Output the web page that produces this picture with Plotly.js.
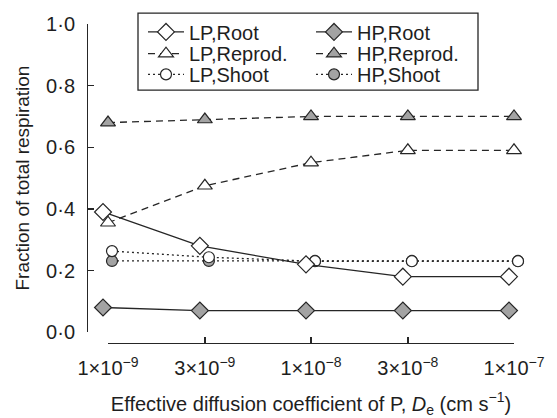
<!DOCTYPE html>
<html>
<head>
<meta charset="utf-8">
<script src="https://cdn.plot.ly/plotly-3.0.1.min.js"></script>
<style>html,body{margin:0;padding:0;background:#fff;}#chart{width:557px;height:418px;}</style>
</head>
<body>
<div id="chart"></div>
<script>
// ---- data ----
const diffusion = [1e-9, 3e-9, 1e-8, 3e-8, 1e-7];
const xTickText = ["1×10<sup>−9</sup>", "3×10<sup>−9</sup>", "1×10<sup>−8</sup>", "3×10<sup>−8</sup>", "1×10<sup>−7</sup>"];
const yTickVals = [0, 0.2, 0.4, 0.6, 0.8, 1.0];
const yTickText = ["0·0", "0·2", "0·4", "0·6", "0·8", "1·0"];

const lpRoot    = [0.39, 0.28, 0.22, 0.18, 0.18];
const lpReprod  = [0.355, 0.475, 0.55, 0.59, 0.59];
const lpShoot   = [0.263, 0.243, 0.23, 0.23, 0.23];
const hpRoot    = [0.08, 0.07, 0.07, 0.07, 0.07];
const hpReprod  = [0.68, 0.69, 0.70, 0.70, 0.70];
const hpShoot   = [0.231, 0.231, 0.231, 0.231, 0.231];

// ---- geometry / styling ----
const W = 557, H = 418;
const mL = 87, mR = 27, mT = 20, mB = 75;
const plotW = W - mL - mR, plotH = H - mT - mB;
const tickL = 108, tickR = 514;             // pixel span of the visible x axis (1e-9 .. 1e-7)
const perDec = (tickR - tickL) / 2;
const ext = 0.06;                            // extra decades so dodged markers stay inside
const px2x = p => (p - mL) / plotW;
const px2y = p => (H - mB - p) / plotH;
const yDomStart = 11 / plotH;

const dark = '#262626';
const grayFill = '#a3a3a3';
const FONT = 'Liberation Sans, Arial, Helvetica, sans-serif';
const txt = '#1e1e1e';

// small horizontal dodge so overlapping markers sit side by side, as in the figure
const dodge = (arr, f) => arr.map(v => v * f);
const leftShift = Math.pow(10, -5 / perDec), rightShift = Math.pow(10, 4 / perDec);

function tr(name, x, xa, y, symbol, filled, dash, legend, size) {
  return {
    type: 'scatter', mode: 'lines+markers', name: name,
    x: x, y: y, xaxis: xa, yaxis: 'y', legend: legend, cliponaxis: false,
    line: {color: dark, width: 1.3, dash: dash},
    marker: {symbol: symbol, size: size, color: filled ? grayFill : '#ffffff',
             line: {color: dark, width: 1.2}}
  };
}

const traces = [
  tr('HP,Root',    dodge(diffusion, leftShift),  'x2', hpRoot,   'diamond',     true,  'solid',   'legend4', 13),
  tr('HP,Reprod.', diffusion,                    'x',  hpReprod, 'triangle-up', true,  '7px,5px', 'legend5', 13),
  tr('HP,Shoot',   dodge(diffusion, rightShift), 'x2', hpShoot,  'circle',      true,  '2px,3px', 'legend6', 11),
  tr('LP,Shoot',   dodge(diffusion, rightShift), 'x2', lpShoot,  'circle',      false, '2px,3px', 'legend3', 11),
  tr('LP,Reprod.', diffusion,                    'x',  lpReprod, 'triangle-up', false, '7px,5px', 'legend2', 13),
  tr('LP,Root',    dodge(diffusion, leftShift),  'x2', lpRoot,   'diamond',     false, 'solid',   'legend',  13)
];

function leg(xpx, ypx) {
  return {
    x: px2x(xpx), y: px2y(ypx), xanchor: 'left', yanchor: 'middle',
    bgcolor: 'rgba(0,0,0,0)', borderwidth: 0,
    font: {size: 20, family: FONT, color: txt}, itemwidth: 36
  };
}

const layout = {
  width: W, height: H,
  margin: {l: mL, r: mR, t: mT, b: mB},
  paper_bgcolor: '#fff', plot_bgcolor: 'rgba(0,0,0,0)',
  font: {family: FONT, color: txt, size: 20},
  showlegend: true,
  // visible axis spanning exactly 1e-9 .. 1e-7
  xaxis: {
    type: 'log', range: [-9, -7],
    domain: [px2x(tickL), px2x(tickR)],
    anchor: 'free', position: 0,
    showline: true, linecolor: dark, linewidth: 1.3,
    ticks: 'inside', ticklen: 6, tickwidth: 1.3, tickcolor: dark,
    tickvals: diffusion, ticktext: xTickText,
    tickfont: {size: 20, family: FONT, color: txt},
    showgrid: false, zeroline: false, automargin: false,
    ticklabelstandoff: 7,
    title: {text: 'Effective diffusion coefficient of P, <i>D</i><sub>e</sub> (cm s<sup>−1</sup>)',
            font: {size: 20, family: FONT, color: txt}, standoff: 22}
  },
  // same scale, slightly wider range so dodged markers are kept; hidden
  xaxis2: {
    type: 'log', range: [-9 - ext, -7 + ext],
    domain: [px2x(tickL - ext * perDec), px2x(tickR + ext * perDec)],
    anchor: 'free', position: 0,
    showline: false, ticks: '', showticklabels: false,
    showgrid: false, zeroline: false, automargin: false
  },
  yaxis: {
    range: [0, 1], domain: [yDomStart, 1],
    anchor: 'free', position: 0,
    showline: true, linecolor: dark, linewidth: 1.3,
    ticks: 'inside', ticklen: 6, tickwidth: 1.3, tickcolor: dark,
    tickvals: yTickVals, ticktext: yTickText,
    tickfont: {size: 20, family: FONT, color: txt},
    showgrid: false, zeroline: false, automargin: false,
    ticklabelstandoff: 8,
    title: {text: 'Fraction of total respiration',
            font: {size: 19, family: FONT, color: txt}, standoff: 10}
  },
  legend:  leg(143, 28),
  legend2: leg(143, 50),
  legend3: leg(143, 71),
  legend4: leg(311, 28),
  legend5: leg(311, 50),
  legend6: leg(311, 71),
  shapes: [{
    type: 'rect', xref: 'paper', yref: 'paper',
    x0: px2x(138), x1: px2x(478), y0: px2y(87), y1: px2y(9),
    line: {color: dark, width: 1.3}, fillcolor: 'rgba(0,0,0,0)', layer: 'below'
  }]
};

Plotly.newPlot('chart', traces, layout, {staticPlot: true, displayModeBar: false});
</script>
</body>
</html>
